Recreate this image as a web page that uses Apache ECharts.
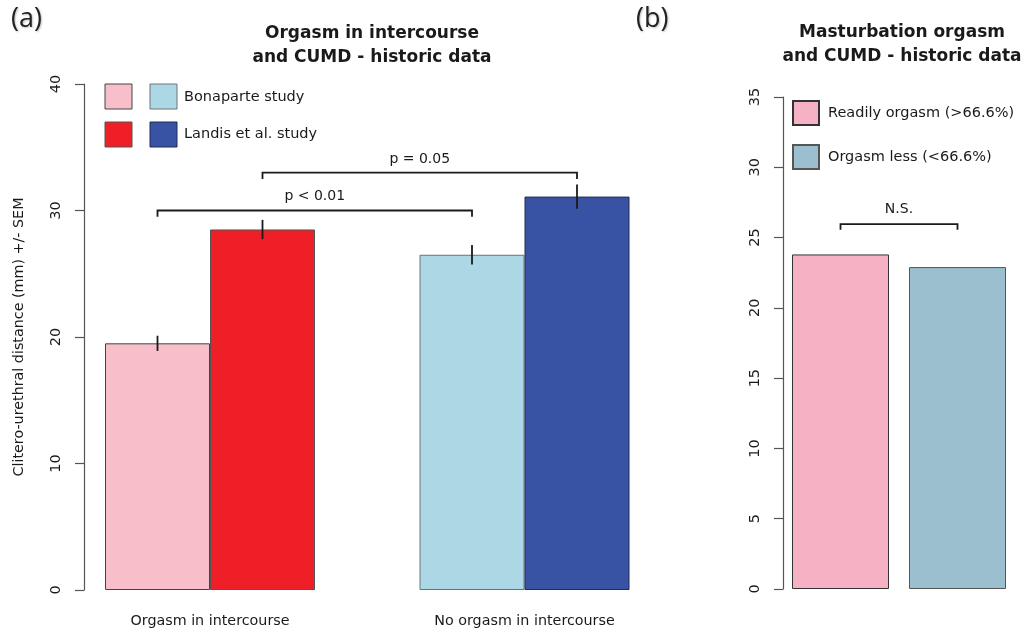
<!DOCTYPE html>
<html>
<head>
<meta charset="utf-8">
<script src="https://cdn.jsdelivr.net/npm/echarts@6/dist/echarts.min.js"></script>
<style>html,body{margin:0;padding:0;background:#fff;}#c{width:1021px;height:631px;}</style>
</head>
<body>
<div id="c"></div>
<script>
// ---------- data ----------
const categoriesA = ['Orgasm in intercourse', 'No orgasm in intercourse'];
const bonaparteValues = [19.5, 26.5];
const bonaparteSEM = [0.6, 0.77];
const landisValues = [28.5, 31.1];
const landisSEM = [0.76, 0.96];
const seriesNamesA = ['Bonaparte study', 'Landis et al. study'];
const yTicksA = [0, 40, 10];          // min, max, interval
// brackets: [fromCat, fromSide(-1 left bar / +1 right bar), toCat, toSide, y, drop, label, labelY]
const bracketsA = [
  [0, -1, 1, -1, 30.0, 0.5, 'p < 0.01', 31.1],
  [0, 1, 1, 1, 33.0, 0.5, 'p = 0.05', 34.05]
];

const categoriesB = ['Masturbation orgasm'];
const seriesNamesB = ['Readily orgasm (>66.6%)', 'Orgasm less (<66.6%)'];
const readilyValues = [23.8];
const lessValues = [22.9];
const yTicksB = [0, 35, 5];
const bracketsB = [[0, -1, 0, 1, 25.95, 0.4, 'N.S.', 27.0]];

const titleA = 'Orgasm in intercourse\nand CUMD - historic data';
const titleB = 'Masturbation orgasm\nand CUMD - historic data';
const yNameA = 'Clitero-urethral distance (mm) +/- SEM';

// ---------- styles ----------
const FONT = '"DejaVu Sans", sans-serif';
const INK = '#1a1a1a';
const colorsA = [['#F8BFCB', '#ACD8E6'], ['#EE1F26', '#3853A4']];
const bordersA = [['#444', '#6a7478'], ['#555', '#222a55']];
const colorsB = ['#F6B2C4', '#9BBFCE'];
const bordersB = ['#333', '#555'];
const BAR_W_A = 105;
const BAR_W_B = 97;
const GAP_B = 20;

function bracketRenderer(list, halfStep) {
  return function (params, api) {
    const b = list[params.dataIndex];
    const pFrom = api.coord([b[0], b[4]]);
    const pTo = api.coord([b[2], b[4]]);
    const pDrop = api.coord([b[0], b[4] - b[5]]);
    const pLab = api.coord([b[0], b[7]]);
    const x1 = pFrom[0] + b[1] * halfStep;
    const x2 = pTo[0] + b[3] * halfStep;
    return {
      type: 'group',
      children: [
        { type: 'polyline', shape: { points: [[x1, pDrop[1]], [x1, pFrom[1]], [x2, pFrom[1]], [x2, pDrop[1]]] },
          style: { stroke: '#1a1a1a', lineWidth: 1.8, fill: null } },
        { type: 'text', x: (x1 + x2) / 2, y: pLab[1],
          style: { text: b[6], font: '14px ' + FONT, fill: INK, textAlign: 'center', textVerticalAlign: 'middle', align: 'center', verticalAlign: 'middle' } }
      ]
    };
  };
}

function errRenderer(values, sems, side) {
  return function (params, api) {
    const i = params.dataIndex;
    const top = api.coord([i, values[i] + sems[i]]);
    const bot = api.coord([i, values[i] - sems[i]]);
    const x = top[0] + side * BAR_W_A / 2;
    return { type: 'line', shape: { x1: x, y1: top[1], x2: x, y2: bot[1] },
      style: { stroke: '#1a1a1a', lineWidth: 1.8 } };
  };
}

const yAxisCommon = {
  type: 'value',
  splitLine: { show: false },
  axisLine: { show: true, lineStyle: { color: '#555', width: 1.2 } },
  axisTick: { show: true, length: 9, lineStyle: { color: '#555', width: 1.2 } },
  axisLabel: { rotate: 90, fontSize: 14.5, fontFamily: FONT, color: INK, margin: 20 }
};

const chart = echarts.init(document.getElementById('c'), null, { renderer: 'canvas' });
chart.setOption({
  backgroundColor: '#fff',
  animation: false,
  title: [
    { text: titleA, left: 367, top: 17, textAlign: 'center',
      textStyle: { fontFamily: FONT, fontWeight: 'bold', fontSize: 17, lineHeight: 24, color: INK } },
    { text: titleB, left: 897, top: 16, textAlign: 'center',
      textStyle: { fontFamily: FONT, fontWeight: 'bold', fontSize: 17, lineHeight: 24, color: INK } }
  ],
  legend: {
    data: seriesNamesB, orient: 'vertical', left: 792, top: 100, padding: 0,
    itemWidth: 26, itemHeight: 24, itemGap: 18, icon: 'rect',
    textStyle: { fontFamily: FONT, fontSize: 14.5, color: INK, padding: [0, 0, 0, 4] },
    selectedMode: false
  },
  grid: [
    { left: 52.75, width: 629, top: 84, height: 506 },
    { left: 783, width: 232, top: 97, height: 492 }
  ],
  xAxis: [
    { type: 'category', gridIndex: 0, data: categoriesA,
      axisLine: { show: false }, axisTick: { show: false },
      axisLabel: { fontSize: 14.3, fontFamily: FONT, color: INK, margin: 24 } },
    { type: 'category', gridIndex: 1, data: categoriesB,
      axisLine: { show: false }, axisTick: { show: false }, axisLabel: { show: false } }
  ],
  yAxis: [
    Object.assign({}, yAxisCommon, { gridIndex: 0, min: yTicksA[0], max: yTicksA[1], interval: yTicksA[2], offset: -31.25,
      name: yNameA, nameLocation: 'middle', nameRotate: 90, nameGap: 58,
      nameTextStyle: { fontFamily: FONT, fontSize: 14.3, color: INK } }),
    Object.assign({}, yAxisCommon, { gridIndex: 1, min: yTicksB[0], max: yTicksB[1], interval: yTicksB[2] })
  ],
  series: [
    { name: seriesNamesA[0], type: 'bar', xAxisIndex: 0, yAxisIndex: 0, barWidth: BAR_W_A, barGap: 0,
      data: bonaparteValues.map((v, i) => ({ value: v, itemStyle: { color: colorsA[0][i], borderColor: bordersA[0][i], borderWidth: 1 } })) },
    { name: seriesNamesA[1], type: 'bar', xAxisIndex: 0, yAxisIndex: 0, barWidth: BAR_W_A, barGap: 0,
      data: landisValues.map((v, i) => ({ value: v, itemStyle: { color: colorsA[1][i], borderColor: bordersA[1][i], borderWidth: 1 } })) },
    { type: 'custom', xAxisIndex: 0, yAxisIndex: 0, renderItem: errRenderer(bonaparteValues, bonaparteSEM, -1),
      data: bonaparteValues.map((v, i) => [i, v]), z: 5 },
    { type: 'custom', xAxisIndex: 0, yAxisIndex: 0, renderItem: errRenderer(landisValues, landisSEM, 1),
      data: landisValues.map((v, i) => [i, v]), z: 5 },
    { type: 'custom', xAxisIndex: 0, yAxisIndex: 0, renderItem: bracketRenderer(bracketsA, BAR_W_A / 2),
      data: bracketsA.map(b => [b[0], b[4]]), z: 5 },
    { name: seriesNamesB[0], type: 'bar', xAxisIndex: 1, yAxisIndex: 1, barWidth: BAR_W_B, barGap: (GAP_B / BAR_W_B * 100) + '%',
      itemStyle: { color: colorsB[0], borderColor: bordersB[0], borderWidth: 1 }, data: readilyValues },
    { name: seriesNamesB[1], type: 'bar', xAxisIndex: 1, yAxisIndex: 1, barWidth: BAR_W_B, barGap: (GAP_B / BAR_W_B * 100) + '%',
      itemStyle: { color: colorsB[1], borderColor: bordersB[1], borderWidth: 1 }, data: lessValues },
    { type: 'custom', xAxisIndex: 1, yAxisIndex: 1, renderItem: bracketRenderer(bracketsB, (BAR_W_B + GAP_B) / 2),
      data: bracketsB.map(b => [b[0], b[4]]), z: 5 }
  ],
  graphic: [
    { type: 'text', left: 11, top: 6, style: { text: '(a)', font: '27px "Open Sans", sans-serif', fill: '#222', textShadowColor: 'rgba(0,0,0,0.25)', textShadowBlur: 2, textShadowOffsetX: 1, textShadowOffsetY: 1 } },
    { type: 'text', left: 636, top: 6, style: { text: '(b)', font: '27px "Open Sans", sans-serif', fill: '#222', textShadowColor: 'rgba(0,0,0,0.25)', textShadowBlur: 2, textShadowOffsetX: 1, textShadowOffsetY: 1 } },
    // legend (a): two colour columns, one text per row
    { type: 'rect', shape: { x: 105, y: 84, width: 27, height: 25 }, style: { fill: colorsA[0][0], stroke: bordersA[0][0], lineWidth: 1 } },
    { type: 'rect', shape: { x: 150, y: 84, width: 27, height: 25 }, style: { fill: colorsA[0][1], stroke: bordersA[0][1], lineWidth: 1 } },
    { type: 'rect', shape: { x: 105, y: 122, width: 27, height: 25 }, style: { fill: colorsA[1][0], stroke: bordersA[1][0], lineWidth: 1 } },
    { type: 'rect', shape: { x: 150, y: 122, width: 27, height: 25 }, style: { fill: colorsA[1][1], stroke: bordersA[1][1], lineWidth: 1 } },
    { type: 'text', x: 184, y: 97, style: { text: seriesNamesA[0], font: '14.5px ' + FONT, fill: INK, textVerticalAlign: 'middle', verticalAlign: 'middle' } },
    { type: 'text', x: 184, y: 134, style: { text: seriesNamesA[1], font: '14.5px ' + FONT, fill: INK, textVerticalAlign: 'middle', verticalAlign: 'middle' } }
  ]
});
</script>
</body>
</html>
